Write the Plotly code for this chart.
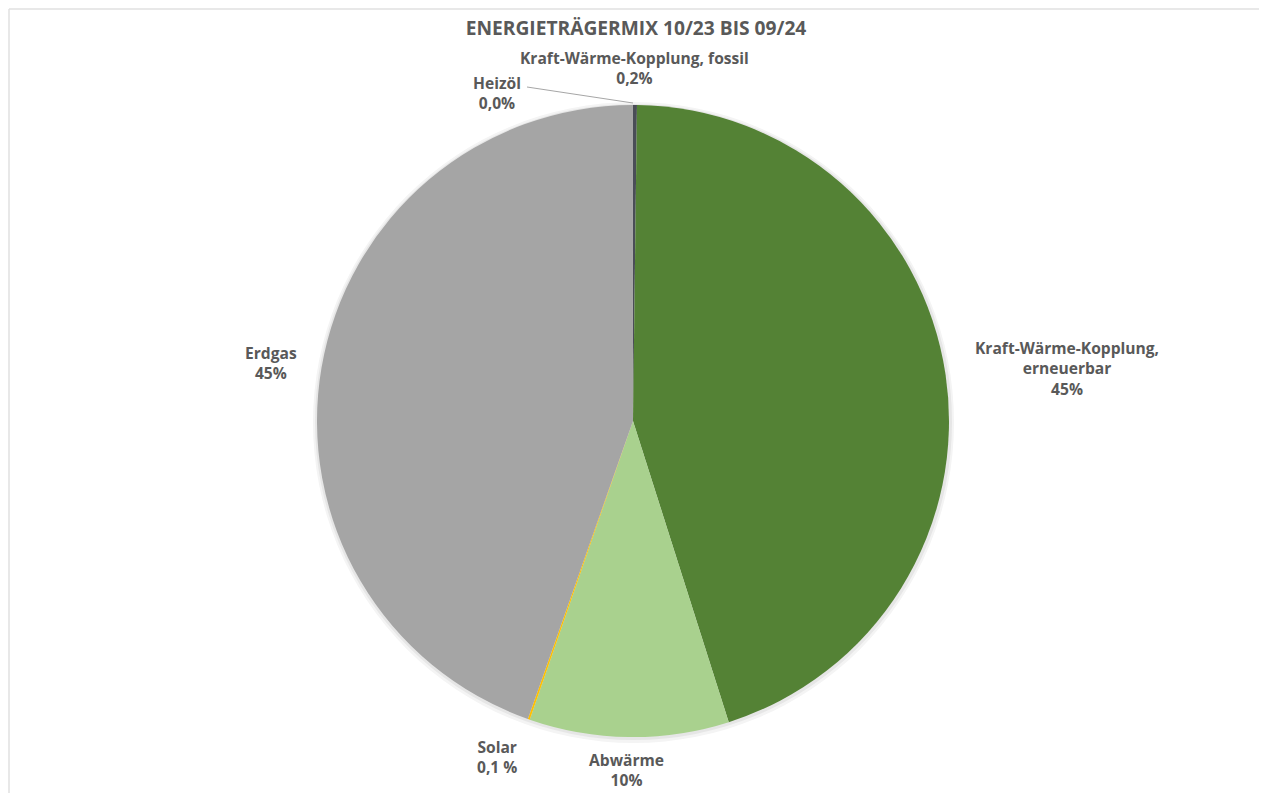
import plotly.graph_objects as go

categories = ["Kraft-Wärme-Kopplung, fossil", "Kraft-Wärme-Kopplung, erneuerbar",
              "Abwärme", "Solar", "Erdgas", "Heizöl"]
values = [0.2, 44.9, 10.2, 0.1, 44.58, 0.02]
pct_text = ["0,2%", "45%", "10%", "0,1 %", "45%", "0,0%"]
label_lines = ["Kraft-Wärme-Kopplung, fossil", "Kraft-Wärme-Kopplung,<br>erneuerbar",
               "Abwärme", "Solar", "Erdgas", "Heizöl"]
colors = ["#4a4d57", "#548235", "#a9d18e", "#ffc000", "#a5a5a5", "#7f7f7f"]

# page offset of the figure inside the browser window
OFF = 8
W, H = 1267 - OFF, 793 - OFF
ML, MR, MT, MB = 0, 9, 105 - OFF, H - (737 - OFF)
PW = W - ML - MR
PH = H - MT - MB

def px(x):
    return (x - OFF - ML) / PW

def py(y):
    return (H - MB - (y - OFF)) / PH

fig = go.Figure(go.Pie(
    labels=categories, values=values, sort=False, direction="clockwise",
    rotation=0, marker=dict(colors=colors, line=dict(width=0)),
    textinfo="none", hoverinfo="label+percent", showlegend=False,
))

# label anchor positions (pixel centres of each label block, reference coords)
label_pos = [(634, 68), (1067, 368), (626, 770), (497, 757), (271, 363), (497, 93)]
font = dict(family="Open Sans", size=15.6, color="#595959")
annotations = []
for name, pct, (x, y) in zip(label_lines, pct_text, label_pos):
    annotations.append(dict(
        text=f"<b>{name}<br>{pct}</b>", x=px(x), y=py(y), xref="paper", yref="paper",
        showarrow=False, xanchor="center", yanchor="middle", align="center",
        font=font,
    ))

cx, cy, r = 633, 421, 316
border = dict(color="#e0e0e0", width=1.5)
shapes = [
    dict(type="circle", xref="paper", yref="paper", layer="below",
         x0=px(cx - r - 4), x1=px(cx + r + 5), y0=py(cy + r + 6), y1=py(cy - r - 3),
         fillcolor="#f4f4f4", line=dict(width=0)),
    dict(type="circle", xref="paper", yref="paper", layer="below",
         x0=px(cx - r - 2), x1=px(cx + r + 3), y0=py(cy + r + 3), y1=py(cy - r - 1),
         fillcolor="#e6e6e6", line=dict(width=0)),
    dict(type="line", xref="paper", yref="paper", x0=px(527), y0=py(87), x1=px(633), y1=py(103),
         line=dict(color="#a6a6a6", width=1)),
    # chart frame (top / left / right)
    dict(type="line", xref="paper", yref="paper", x0=px(OFF + 1), x1=px(1260),
         y0=py(OFF + 1), y1=py(OFF + 1), line=border),
    dict(type="line", xref="paper", yref="paper", x0=px(OFF + 1), x1=px(OFF + 1),
         y0=py(OFF + 1), y1=py(800), line=border),
    dict(type="line", xref="paper", yref="paper", x0=px(1260), x1=px(1260),
         y0=py(OFF + 1), y1=py(800), line=border),
]

fig.update_layout(
    width=W, height=H,
    margin=dict(l=ML, r=MR, t=MT, b=MB),
    paper_bgcolor="white", plot_bgcolor="white",
    title=dict(text="<b>ENERGIETRÄGERMIX 10/23 BIS 09/24</b>", x=px(636), xanchor="center",
               xref="paper", y=1 - (28 - OFF) / H, yanchor="middle",
               font=dict(family="Open Sans", size=19.2, color="#595959")),
    annotations=annotations, shapes=shapes,
)

fig.write_html("out.html")
